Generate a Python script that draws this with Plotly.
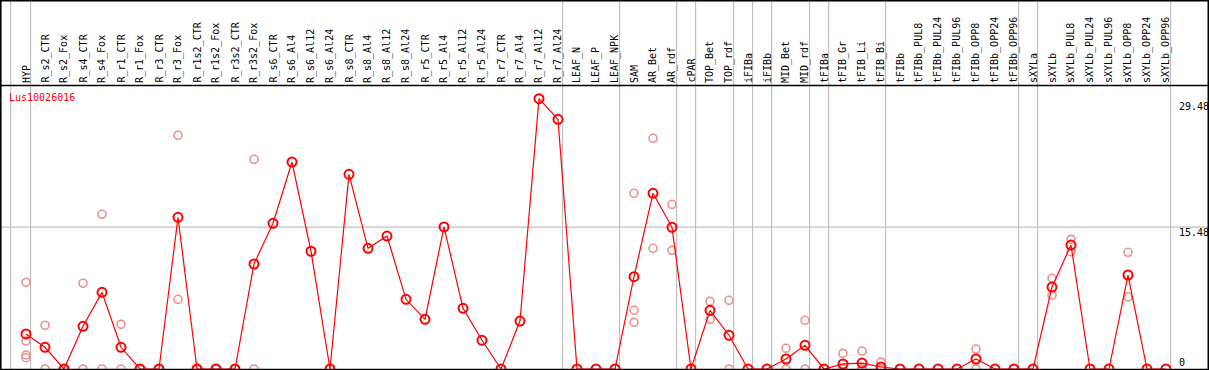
import plotly.graph_objects as go

categories = ["HYP", "R_s2_CTR", "R_s2_Fox", "R_s4_CTR", "R_s4_Fox", "R_r1_CTR", "R_r1_Fox",
              "R_r3_CTR", "R_r3_Fox", "R_r1s2_CTR", "R_r1s2_Fox", "R_r3s2_CTR", "R_r3s2_Fox",
              "R_s6_CTR", "R_s6_Al4", "R_s6_Al12", "R_s6_Al24", "R_s8_CTR", "R_s8_Al4",
              "R_s8_Al12", "R_s8_Al24", "R_r5_CTR", "R_r5_Al4", "R_r5_Al12", "R_r5_Al24",
              "R_r7_CTR", "R_r7_Al4", "R_r7_Al12", "R_r7_Al24", "LEAF_N", "LEAF_P", "LEAF_NPK",
              "SAM", "AR_Bet", "AR_rdf", "cPAR", "TOP_Bet", "TOP_rdf", "iFIBa", "iFIBb",
              "MID_Bet", "MID_rdf", "tFIBa", "tFIB_Gr", "tFIB_Li", "tFIB_Bi", "tFIBb",
              "tFIBb_PUL8", "tFIBb_PUL24", "tFIBb_PUL96", "tFIBb_OPP8", "tFIBb_OPP24",
              "tFIBb_OPP96", "sXYLa", "sXYLb", "sXYLb_PUL8", "sXYLb_PUL24", "sXYLb_PUL96",
              "sXYLb_OPP8", "sXYLb_OPP24", "sXYLb_OPP96"]

mean_values = [3.82, 2.37, 0, 4.66, 8.36, 2.37, 0, 0, 16.54, 0, 0, 0, 11.45,
               15.89, 22.57, 12.84, 0, 21.23, 13.16, 14.50, 7.60, 5.42, 15.49, 6.62, 3.13,
               0, 5.23, 29.48, 27.23, 0, 0, 0,
               10.07, 19.16, 15.45, 0, 6.40, 3.68, 0, 0, 1.09, 2.58, 0, 0.55, 0.65, 0.22, 0,
               0, 0, 0, 1.09, 0, 0, 0, 8.94, 13.52, 0, 0, 10.25, 0, 0]

replicates = {
    "HYP": [9.45, 3.05, 1.53, 1.23],
    "R_s2_CTR": [4.77, 0], "R_s2_Fox": [0, 0], "R_s4_CTR": [9.35, 0], "R_s4_Fox": [16.87, 0],
    "R_r1_CTR": [4.87, 0], "R_r1_Fox": [0, 0], "R_r3_CTR": [0, 0], "R_r3_Fox": [25.49, 7.60],
    "R_r1s2_CTR": [0, 0], "R_r1s2_Fox": [0, 0], "R_r3s2_CTR": [0, 0], "R_r3s2_Fox": [22.87, 0],
    "SAM": [19.16, 6.40, 5.09], "AR_Bet": [25.16, 13.16], "AR_rdf": [17.96, 12.94],
    "TOP_Bet": [7.38, 5.42], "TOP_rdf": [7.49, 0], "MID_Bet": [2.26, 0], "MID_rdf": [5.31, 0],
    "tFIB_Gr": [1.7, 0, 0], "tFIB_Li": [1.96, 0, 0], "tFIB_Bi": [0.76, 0, 0],
    "tFIBb_OPP8": [2.18, 0], "sXYLb": [9.89, 8.04], "sXYLb_PUL8": [14.14, 12.79],
    "sXYLb_OPP8": [12.73, 7.85],
}

separators_after = ["HYP", "R_r7_Al24", "LEAF_NPK", "AR_rdf", "cPAR", "TOP_rdf", "iFIBa",
                    "iFIBb", "MID_rdf", "tFIBa", "tFIB_Bi", "tFIBb_OPP96", "sXYLa", "sXYLb_OPP96"]

gene_name = "Lus10026016"
y_ticks = [29.48, 15.48, 0]
y_tick_labels = ["29.48", "15.48", "0"]

W, H = 1209, 370
X0, DX = 26.0, 19.0        # pixel of first category, spacing
Y0, SY = 369.0, 9.17        # pixel of zero, pixels per unit
FONT = "DejaVu Sans Mono, monospace"

idx = list(range(len(categories)))
rx, ry = [], []
for c, vals in replicates.items():
    i = categories.index(c)
    for v in vals:
        rx.append(i)
        ry.append(v)

fig = go.Figure()
fig.add_trace(go.Scatter(x=rx, y=ry, mode="markers", hoverinfo="skip",
                         marker=dict(symbol="circle-open", size=8, color="#ef8f8f",
                                     line=dict(width=1.6, color="#ef8f8f"))))
fig.add_trace(go.Scatter(x=idx, y=mean_values, mode="lines+markers",
                         line=dict(color="#ff0000", width=1.2),
                         marker=dict(symbol="circle-open", size=9, color="#ff0000",
                                     line=dict(width=2, color="#ff0000"))))

def py(pix):
    return 1 - pix / H

shapes = []
shapes.append(dict(type="line", xref="x", yref="paper", x0=-0.805, x1=-0.805,
                   y0=py(369), y1=1, line=dict(color="#c0c0c0", width=1.2), layer="below"))
for c in separators_after:
    k = categories.index(c) + 0.24
    shapes.append(dict(type="line", xref="x", yref="paper", x0=k, x1=k,
                       y0=py(369), y1=1, line=dict(color="#c0c0c0", width=1.2), layer="below"))
shapes.append(dict(type="line", xref="paper", yref="y", x0=0, x1=1, y0=y_ticks[1], y1=y_ticks[1],
                   line=dict(color="#c0c0c0", width=1.2), layer="below"))
shapes.append(dict(type="line", xref="paper", yref="paper", x0=0, x1=1, y0=py(0.8), y1=py(0.8),
                   line=dict(color="black", width=1.6)))
shapes.append(dict(type="line", xref="paper", yref="paper", x0=0, x1=1, y0=py(85.5), y1=py(85.5),
                   line=dict(color="black", width=1.6)))
shapes.append(dict(type="line", xref="paper", yref="paper", x0=0, x1=1, y0=py(369.5), y1=py(369.5),
                   line=dict(color="black", width=1.6)))
shapes.append(dict(type="line", xref="paper", yref="paper", x0=0.8 / W, x1=0.8 / W, y0=0, y1=1,
                   line=dict(color="black", width=1.6)))
shapes.append(dict(type="line", xref="paper", yref="paper", x0=1208.3 / W, x1=1208.3 / W, y0=0, y1=1,
                   line=dict(color="black", width=1.6)))

annotations = []
for i, c in enumerate(categories):
    annotations.append(dict(x=i, xref="x", y=py(84), yref="paper", text=c, showarrow=False,
                            textangle=-90, xanchor="center", yanchor="bottom",
                            font=dict(family=FONT, size=10, color="black"), borderpad=0))
annotations.append(dict(x=8 / W, xref="paper", y=py(97), yref="paper", text=gene_name,
                        showarrow=False, xanchor="left", yanchor="middle",
                        font=dict(family=FONT, size=10, color="#ff0000"), borderpad=0))
tick_pix = [107, 232, 362]
for lab, p in zip(y_tick_labels, tick_pix):
    annotations.append(dict(x=1177.5 / W, xref="paper", y=py(p), yref="paper", text=lab,
                            showarrow=False, xanchor="left", yanchor="middle",
                            font=dict(family=FONT, size=10, color="black"), borderpad=0))

fig.update_layout(
    width=W, height=H, margin=dict(l=0, r=0, t=0, b=0),
    paper_bgcolor="white", plot_bgcolor="white", showlegend=False,
    xaxis=dict(range=[(0 - X0) / DX, (W - X0) / DX], visible=False, fixedrange=True),
    yaxis=dict(range=[(Y0 - H) / SY, Y0 / SY], visible=False, fixedrange=True),
    shapes=shapes, annotations=annotations,
)

fig.write_html("out.html", config={"displayModeBar": False},
               post_script="document.body.style.margin='0';document.body.style.overflow='hidden';")
